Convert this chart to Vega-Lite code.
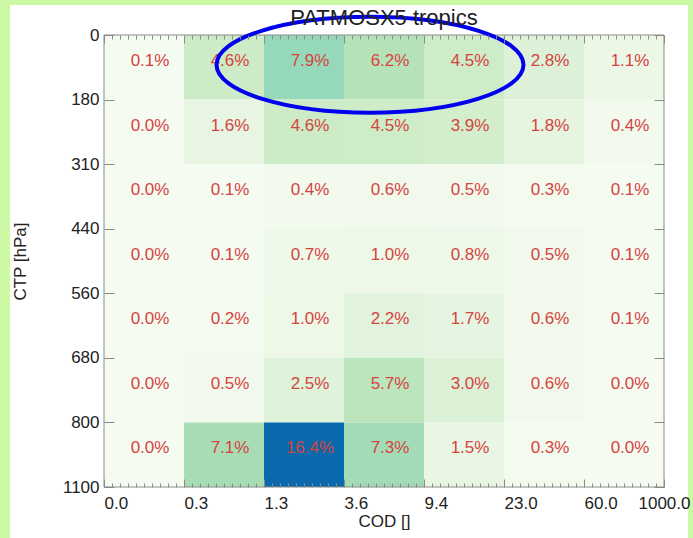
{
  "$schema": "https://vega.github.io/schema/vega-lite/v6.json",
  "width": 560,
  "height": 452,
  "autosize": "none",
  "padding": {"left": 104, "top": 35, "right": 29, "bottom": 51},
  "background": "#ccf9a3",
  "title": {
    "text": "PATMOSX5 tropics",
    "fontSize": 22,
    "font": "Liberation Sans",
    "fontWeight": "normal",
    "color": "#222222",
    "anchor": "middle",
    "frame": "group",
    "baseline": "alphabetic",
    "offset": -42
  },
  "resolve": {"axis": {"x": "independent"}},
  "data": {
    "values": [
      {"cod_lo": 0, "cod_hi": 1, "ctp_lo": 0, "ctp_hi": 1, "freq": 0.001},
      {"cod_lo": 1, "cod_hi": 2, "ctp_lo": 0, "ctp_hi": 1, "freq": 0.046},
      {"cod_lo": 2, "cod_hi": 3, "ctp_lo": 0, "ctp_hi": 1, "freq": 0.079},
      {"cod_lo": 3, "cod_hi": 4, "ctp_lo": 0, "ctp_hi": 1, "freq": 0.062},
      {"cod_lo": 4, "cod_hi": 5, "ctp_lo": 0, "ctp_hi": 1, "freq": 0.045},
      {"cod_lo": 5, "cod_hi": 6, "ctp_lo": 0, "ctp_hi": 1, "freq": 0.028},
      {"cod_lo": 6, "cod_hi": 7, "ctp_lo": 0, "ctp_hi": 1, "freq": 0.011},
      {"cod_lo": 0, "cod_hi": 1, "ctp_lo": 1, "ctp_hi": 2, "freq": 0.0},
      {"cod_lo": 1, "cod_hi": 2, "ctp_lo": 1, "ctp_hi": 2, "freq": 0.016},
      {"cod_lo": 2, "cod_hi": 3, "ctp_lo": 1, "ctp_hi": 2, "freq": 0.046},
      {"cod_lo": 3, "cod_hi": 4, "ctp_lo": 1, "ctp_hi": 2, "freq": 0.045},
      {"cod_lo": 4, "cod_hi": 5, "ctp_lo": 1, "ctp_hi": 2, "freq": 0.039},
      {"cod_lo": 5, "cod_hi": 6, "ctp_lo": 1, "ctp_hi": 2, "freq": 0.018},
      {"cod_lo": 6, "cod_hi": 7, "ctp_lo": 1, "ctp_hi": 2, "freq": 0.004},
      {"cod_lo": 0, "cod_hi": 1, "ctp_lo": 2, "ctp_hi": 3, "freq": 0.0},
      {"cod_lo": 1, "cod_hi": 2, "ctp_lo": 2, "ctp_hi": 3, "freq": 0.001},
      {"cod_lo": 2, "cod_hi": 3, "ctp_lo": 2, "ctp_hi": 3, "freq": 0.004},
      {"cod_lo": 3, "cod_hi": 4, "ctp_lo": 2, "ctp_hi": 3, "freq": 0.006},
      {"cod_lo": 4, "cod_hi": 5, "ctp_lo": 2, "ctp_hi": 3, "freq": 0.005},
      {"cod_lo": 5, "cod_hi": 6, "ctp_lo": 2, "ctp_hi": 3, "freq": 0.003},
      {"cod_lo": 6, "cod_hi": 7, "ctp_lo": 2, "ctp_hi": 3, "freq": 0.001},
      {"cod_lo": 0, "cod_hi": 1, "ctp_lo": 3, "ctp_hi": 4, "freq": 0.0},
      {"cod_lo": 1, "cod_hi": 2, "ctp_lo": 3, "ctp_hi": 4, "freq": 0.001},
      {"cod_lo": 2, "cod_hi": 3, "ctp_lo": 3, "ctp_hi": 4, "freq": 0.007},
      {"cod_lo": 3, "cod_hi": 4, "ctp_lo": 3, "ctp_hi": 4, "freq": 0.010},
      {"cod_lo": 4, "cod_hi": 5, "ctp_lo": 3, "ctp_hi": 4, "freq": 0.008},
      {"cod_lo": 5, "cod_hi": 6, "ctp_lo": 3, "ctp_hi": 4, "freq": 0.005},
      {"cod_lo": 6, "cod_hi": 7, "ctp_lo": 3, "ctp_hi": 4, "freq": 0.001},
      {"cod_lo": 0, "cod_hi": 1, "ctp_lo": 4, "ctp_hi": 5, "freq": 0.0},
      {"cod_lo": 1, "cod_hi": 2, "ctp_lo": 4, "ctp_hi": 5, "freq": 0.002},
      {"cod_lo": 2, "cod_hi": 3, "ctp_lo": 4, "ctp_hi": 5, "freq": 0.010},
      {"cod_lo": 3, "cod_hi": 4, "ctp_lo": 4, "ctp_hi": 5, "freq": 0.022},
      {"cod_lo": 4, "cod_hi": 5, "ctp_lo": 4, "ctp_hi": 5, "freq": 0.017},
      {"cod_lo": 5, "cod_hi": 6, "ctp_lo": 4, "ctp_hi": 5, "freq": 0.006},
      {"cod_lo": 6, "cod_hi": 7, "ctp_lo": 4, "ctp_hi": 5, "freq": 0.001},
      {"cod_lo": 0, "cod_hi": 1, "ctp_lo": 5, "ctp_hi": 6, "freq": 0.0},
      {"cod_lo": 1, "cod_hi": 2, "ctp_lo": 5, "ctp_hi": 6, "freq": 0.005},
      {"cod_lo": 2, "cod_hi": 3, "ctp_lo": 5, "ctp_hi": 6, "freq": 0.025},
      {"cod_lo": 3, "cod_hi": 4, "ctp_lo": 5, "ctp_hi": 6, "freq": 0.057},
      {"cod_lo": 4, "cod_hi": 5, "ctp_lo": 5, "ctp_hi": 6, "freq": 0.030},
      {"cod_lo": 5, "cod_hi": 6, "ctp_lo": 5, "ctp_hi": 6, "freq": 0.006},
      {"cod_lo": 6, "cod_hi": 7, "ctp_lo": 5, "ctp_hi": 6, "freq": 0.0},
      {"cod_lo": 0, "cod_hi": 1, "ctp_lo": 6, "ctp_hi": 7, "freq": 0.0},
      {"cod_lo": 1, "cod_hi": 2, "ctp_lo": 6, "ctp_hi": 7, "freq": 0.071},
      {"cod_lo": 2, "cod_hi": 3, "ctp_lo": 6, "ctp_hi": 7, "freq": 0.164},
      {"cod_lo": 3, "cod_hi": 4, "ctp_lo": 6, "ctp_hi": 7, "freq": 0.073},
      {"cod_lo": 4, "cod_hi": 5, "ctp_lo": 6, "ctp_hi": 7, "freq": 0.015},
      {"cod_lo": 5, "cod_hi": 6, "ctp_lo": 6, "ctp_hi": 7, "freq": 0.003},
      {"cod_lo": 6, "cod_hi": 7, "ctp_lo": 6, "ctp_hi": 7, "freq": 0.0}
    ]
  },
  "layer": [
    {
      "data": {"values": [{}]},
      "mark": {"type": "rect", "fill": "white", "stroke": null},
      "encoding": {
        "x": {"datum": -1.175, "type": "quantitative", "axis": null},
        "x2": {"datum": 7.3},
        "y": {"datum": -0.465, "type": "quantitative"},
        "y2": {"datum": 7.9}
      }
    },
    {
      "mark": {"type": "rect"},
      "encoding": {
        "x": {
          "field": "cod_lo",
          "type": "quantitative",
          "scale": {"domain": [0, 7], "nice": false, "zero": false},
          "axis": {
            "orient": "bottom",
            "title": "COD []",
            "values": [0, 1, 2, 3, 4, 5, 6, 7],
            "labelExpr": "['0.0','0.3','1.3','3.6','9.4','23.0','60.0','1000.0'][datum.value]",
            "labelAlign": {"condition": {"test": "datum.value == 7", "value": "center"}, "value": "left"},
            "labelFlush": false,
            "labelOverlap": false,
            "labelBound": false,
            "ticks": false,
            "domain": false,
            "grid": false,
            "labelFont": "Liberation Sans",
            "labelFontSize": 17,
            "labelColor": "#222222",
            "labelPadding": 8,
            "titleFont": "Liberation Sans",
            "titleFontSize": 17,
            "titleFontWeight": "normal",
            "titleColor": "#222222",
            "titlePadding": 2,
            "zindex": 1
          }
        },
        "x2": {"field": "cod_hi"},
        "y": {
          "field": "ctp_lo",
          "type": "quantitative",
          "scale": {"domain": [0, 7], "nice": false, "zero": false, "reverse": true},
          "axis": {
            "title": "CTP [hPa]",
            "values": [0, 1, 2, 3, 4, 5, 6, 7],
            "labelExpr": "['0','180','310','440','560','680','800','1100'][datum.value]",
            "ticks": false,
            "domain": false,
            "grid": true,
            "gridColor": "#8a8a8a",
            "gridOpacity": 1,
            "gridWidth": 1,
            "gridDash": [10, 540, 10],
            "labelOverlap": false,
            "labelFont": "Liberation Sans",
            "labelFontSize": 17,
            "labelColor": "#222222",
            "labelPadding": 5,
            "titleFont": "Liberation Sans",
            "titleFontSize": 17,
            "titleFontWeight": "normal",
            "titleColor": "#222222",
            "titlePadding": 33,
            "zindex": 1
          }
        },
        "y2": {"field": "ctp_hi"},
        "color": {
          "field": "freq",
          "type": "quantitative",
          "legend": null,
          "scale": {
            "domain": [0, 0.0235, 0.047, 0.0705, 0.094, 0.1175, 0.141, 0.1645, 0.188],
            "range": ["#f5fbf1", "#e0f3db", "#ccebc5", "#a8ddb5", "#7bccc4", "#4eb3d3", "#2b8cbe", "#0868ac", "#084081"]
          }
        }
      }
    },
    {
      "mark": {
        "type": "text",
        "align": "center",
        "baseline": "middle",
        "dx": 46,
        "dy": 26,
        "font": "Liberation Sans",
        "fontSize": 17,
        "color": "#d6433f"
      },
      "encoding": {
        "x": {
          "field": "cod_lo",
          "type": "quantitative",
          "axis": {
            "orient": "top",
            "title": null,
            "values": [0,0.1,0.2,0.3,0.4,0.5,0.6,0.7,0.8,0.9,1,1.1,1.2,1.3,1.4,1.5,1.6,1.7,1.8,1.9,2,2.1,2.2,2.3,2.4,2.5,2.6,2.7,2.8,2.9,3,3.1,3.2,3.3,3.4,3.5,3.6,3.7,3.8,3.9,4,4.1,4.2,4.3,4.4,4.5,4.6,4.7,4.8,4.9,5,5.1,5.2,5.3,5.4,5.5,5.6,5.7,5.8,5.9,6,6.1,6.2,6.3,6.4,6.5,6.6,6.7,6.8,6.9,7],
            "labels": false,
            "ticks": false,
            "domain": false,
            "grid": true,
            "gridColor": "#8a8a8a",
            "gridOpacity": 1,
            "gridWidth": 1,
            "gridDash": {"condition": {"test": "abs(datum.value - round(datum.value)) < 0.01", "value": [8, 436, 8]}, "value": [4, 444, 4]},
            "zindex": 1
          }
        },
        "y": {"field": "ctp_lo", "type": "quantitative"},
        "text": {"field": "freq", "type": "quantitative", "format": ".1%"}
      }
    },
    {
      "data": {"values": [{}]},
      "mark": {"type": "rect", "fill": null, "stroke": "#8a8a8a", "strokeWidth": 1},
      "encoding": {
        "x": {"datum": 0, "type": "quantitative", "axis": null},
        "x2": {"datum": 7},
        "y": {"datum": 0, "type": "quantitative"},
        "y2": {"datum": 7}
      }
    },
    {
      "data": {"values": [{}]},
      "mark": {
        "type": "point",
        "shape": "M -1 0 C -1 -0.1724 -0.5523 -0.3122 0 -0.3122 C 0.5523 -0.3122 1 -0.1724 1 0 C 1 0.1724 0.5523 0.3122 0 0.3122 C -0.5523 0.3122 -1 0.1724 -1 0 Z",
        "size": 94249,
        "filled": false,
        "stroke": "#0000ee",
        "strokeWidth": 4,
        "opacity": 1
      },
      "encoding": {
        "x": {"datum": 3.325, "type": "quantitative", "axis": null},
        "y": {"datum": 0.46, "type": "quantitative"}
      }
    }
  ],
  "config": {
    "view": {"stroke": null}
  }
}
